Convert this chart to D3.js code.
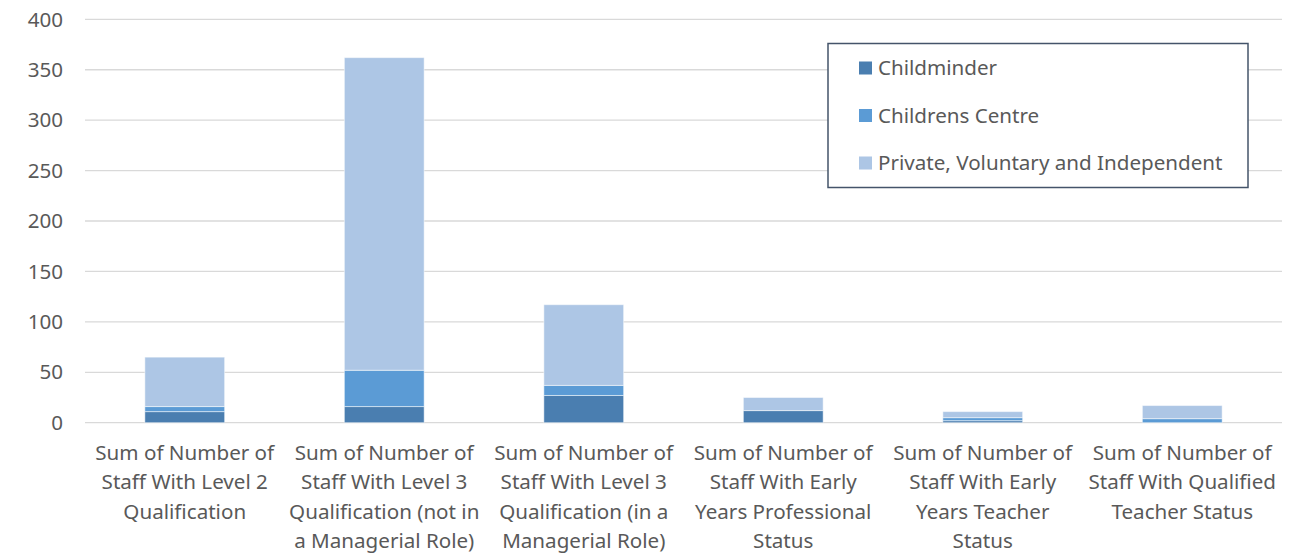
<!DOCTYPE html>
<html>
<head>
<meta charset="utf-8">
<script src="https://cdn.jsdelivr.net/npm/d3@7"></script>
<style>
  body { margin: 0; background: #fff; }
  text { font-family: "Noto Sans", "Open Sans", sans-serif; fill: #595959; font-size: 20.6px; }
</style>
</head>
<body>
<svg width="1310" height="554"></svg>
<script>
// categories, one label line per entry
var categories = [
	["Sum of Number of", "Staff With Level 2", "Qualification"],
	["Sum of Number of", "Staff With Level 3", "Qualification (not in", "a Managerial Role)"],
	["Sum of Number of", "Staff With Level 3", "Qualification (in a", "Managerial Role)"],
	["Sum of Number of", "Staff With Early", "Years Professional", "Status"],
	["Sum of Number of", "Staff With Early", "Years Teacher", "Status"],
	["Sum of Number of", "Staff With Qualified", "Teacher Status"]
];
var seriesNames = ["Childminder", "Childrens Centre", "Private, Voluntary and Independent"];
var childminder = [11, 16, 27, 12, 2, 0];
var childrensCentre = [5, 36, 10, 0, 3, 4];
var pvi = [49, 310, 80, 13, 6, 13];
var yTicks = [0, 50, 100, 150, 200, 250, 300, 350, 400];
var colors = ["#4a7eb0", "#5b9bd5", "#adc6e5"];

var svg = d3.select("svg");

var rows = categories.map(function(c, i) {
	return { idx: i, Childminder: childminder[i], "Childrens Centre": childrensCentre[i], "Private, Voluntary and Independent": pvi[i] };
});
var stacked = d3.stack().keys(seriesNames)(rows);

var x = d3.scaleBand()
	.domain(d3.range(categories.length))
	.range([85, 1282])
	.paddingInner(0.6)
	.paddingOuter(0.3);

var y = d3.scaleLinear()
	.domain([0, 400])
	.range([422.7, 19.3]);

// gridlines
svg.append("g")
	.selectAll("line")
	.data(yTicks)
	.enter().append("line")
	.attr("x1", 85)
	.attr("x2", 1282)
	.attr("y1", function(d) { return y(d); })
	.attr("y2", function(d) { return y(d); })
	.attr("stroke", "#d9d9d9")
	.attr("stroke-width", 1.3);

// y labels
svg.append("g")
	.selectAll("text")
	.data(yTicks)
	.enter().append("text")
	.attr("x", 63)
	.attr("y", function(d) { return y(d); })
	.attr("dy", "0.35em")
	.attr("text-anchor", "end")
	.text(function(d) { return d; });

// bars
svg.append("g")
	.selectAll("g")
	.data(stacked)
	.enter().append("g")
	.attr("fill", function(d, i) { return colors[i]; })
	.selectAll("rect")
	.data(function(d) { return d; })
	.enter().append("rect")
	.attr("x", function(d) { return x(d.data.idx); })
	.attr("width", x.bandwidth())
	.attr("y", function(d) { return y(d[1]); })
	.attr("height", function(d) { return y(d[0]) - y(d[1]); })
	.attr("stroke", "#ffffff")
	.attr("stroke-opacity", 0.5)
	.attr("stroke-width", 1);

// category labels
var catLabels = svg.append("g")
	.selectAll("text")
	.data(categories)
	.enter().append("text")
	.attr("x", function(d, i) { return x(i) + x.bandwidth() / 2; })
	.attr("y", 460)
	.attr("text-anchor", "middle");
catLabels.selectAll("tspan")
	.data(function(d) { return d; })
	.enter().append("tspan")
	.attr("x", function() { return d3.select(this.parentNode).attr("x"); })
	.attr("dy", function(d, i) { return i === 0 ? 0 : 29.3; })
	.text(function(d) { return d; });

// legend
var legend = svg.append("g").attr("class", "legend");
legend.append("rect")
	.attr("x", 828)
	.attr("y", 43.5)
	.attr("width", 420)
	.attr("height", 144)
	.attr("fill", "#fff")
	.attr("stroke", "#44546a")
	.attr("stroke-width", 1.5);
var items = legend.selectAll("g")
	.data(seriesNames)
	.enter().append("g")
	.attr("transform", function(d, i) { return "translate(859," + (68 + i * 47.5) + ")"; });
items.append("rect")
	.attr("x", 0)
	.attr("y", -6.5)
	.attr("width", 13)
	.attr("height", 13)
	.attr("fill", function(d, i) { return colors[i]; });
items.append("text")
	.attr("x", 19)
	.attr("dy", "0.35em")
	.text(function(d) { return d; });
</script>
</body>
</html>
